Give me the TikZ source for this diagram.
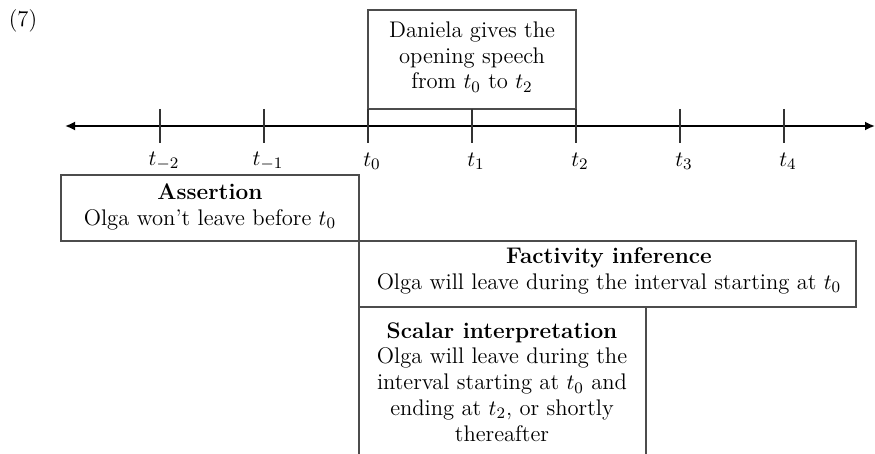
\documentclass[tikz,border=0pt]{standalone}
\usetikzlibrary{arrows.meta}
\tikzset{
  frame/.style={draw=black!70,line width=0.55pt},
  tickmark/.style={draw=black!80,line width=0.55pt},
  timeline/.style={{Latex[length=5pt,width=4.5pt]}-{Latex[length=5pt,width=4.5pt]},line width=0.9pt},
  caption/.style={align=center,inner sep=0pt,font=\fontsize{11.3}{12.9}\selectfont}
}
\begin{document}
\begin{tikzpicture}[x=0.5pt,y=-0.5pt]
  \useasboundingbox (0,0) rectangle (875,454);
  \node[caption] (exnum) at (23,21) {(7)};

  % the speech interval, resting on t0..t2
  \draw[frame] (368,10) rectangle (576,109);
  \node[caption] (speech) at (472,57) {Daniela gives the\\opening speech\\from $t_0$ to $t_2$};

  % time axis with ticks
  \coordinate (past) at (65,126);
  \coordinate (future) at (875,126);
  \draw[timeline] (past) -- (future);
  \foreach \k in {-2,...,4}{
    \draw[tickmark] (368+104*\k,109) -- (368+104*\k,143);
    \node[caption] (lab\k) at (372+104*\k,161) {$t_{\k}$};
  }

  % readings of the sentence
  \draw[frame] (61,175) rectangle (359,241);
  \node[caption] (assert) at (210,207) {\textbf{Assertion}\\Olga won't leave before $t_0$};

  \draw[frame] (359,241) rectangle (856,307);
  \node[caption] (fact) at (609,271) {\textbf{Factivity inference}\\Olga will leave during the interval starting at $t_0$};

  \draw[frame] (359,454) -- (359,307) -- (646,307) -- (646,454);
  \node[caption] (scalar) at (502,382) {\textbf{Scalar interpretation}\\Olga will leave during the\\interval starting at $t_0$ and\\ending at $t_2$, or shortly\\thereafter};
\end{tikzpicture}
\end{document}
